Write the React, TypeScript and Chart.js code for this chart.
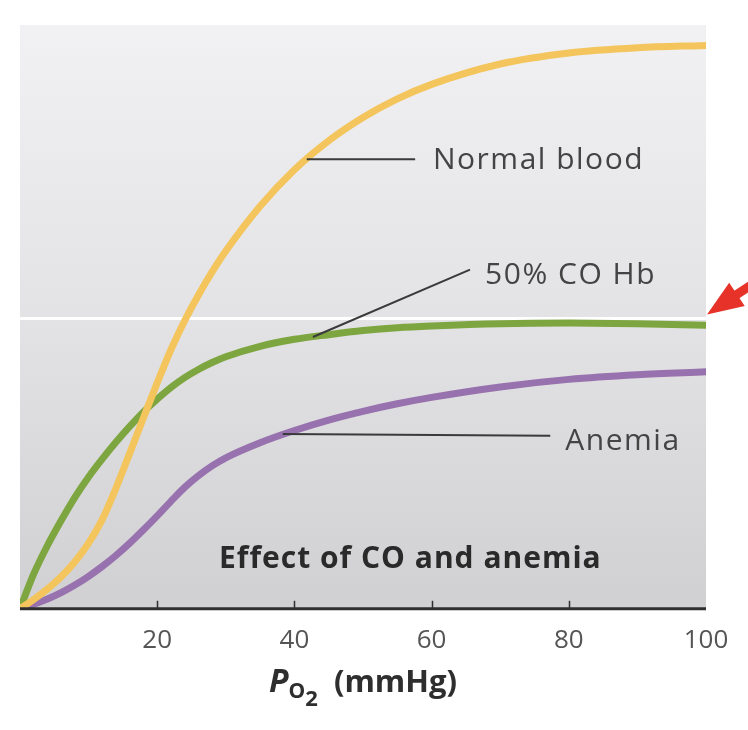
import { useEffect, useRef } from "react";
import { Chart, registerables } from "chart.js";

Chart.register(...registerables);

// Oxygen partial pressure (mmHg) sampled along each dissociation curve
const pO2 = [0, 2, 4, 6, 8, 10, 12, 14, 16, 18, 20, 22, 24, 26, 28, 30, 35, 40, 45, 50, 55, 60, 70, 80, 90, 100];
// Hemoglobin saturation (%) for each condition
const normalBlood = [0, 1.6, 3.4, 5.5, 8.1, 11.3, 15.4, 20.8, 26.8, 32.9, 38.9, 44.6, 49.6, 54, 58, 61.6, 69.3, 75.6, 80.6, 84.6, 87.8, 90.3, 93.8, 95.7, 96.6, 97];
const coHb50 = [0, 6, 10.9, 15.2, 19.2, 22.7, 25.8, 28.7, 31.4, 33.9, 36.1, 38.1, 39.8, 41.2, 42.4, 43.4, 45.2, 46.4, 47.2, 47.9, 48.4, 48.7, 49.1, 49.2, 49.1, 48.8];
const anemia = [0, 0.8, 1.7, 2.8, 4.1, 5.6, 7.3, 9.2, 11.3, 13.6, 16, 18.5, 20.9, 22.9, 24.6, 26, 28.6, 30.7, 32.5, 34, 35.3, 36.4, 38.2, 39.5, 40.3, 40.8];
const xTickValues = [20, 40, 60, 80, 100];
const seriesNames = ["Normal blood", "50% CO Hb", "Anemia"];
const seriesColors = ["#f3c55c", "#7ea640", "#9872ae"];
const chartTitle = "Effect of CO and anemia";
const referenceSaturation = 50;

const FONT = "'Open Sans', 'DejaVu Sans', sans-serif";

// Callout positions, in data units: point on the curve, end of leader, text anchor
const callouts = [
  { text: seriesNames[0], from: [41.8, 77.4], to: [57.6, 77.4], label: [60.2, 77.2] },
  { text: seriesNames[1], from: [42.7, 46.8], to: [65.6, 58.4], label: [67.8, 57.4] },
  { text: seriesNames[2], from: [38.3, 30.1], to: [77.3, 29.8], label: [79.5, 28.8] },
];

const decorations = {
  id: "decorations",
  beforeDatasetsDraw(chart: Chart) {
    const { ctx, chartArea: a, scales } = chart;
    const y = scales.y;
    ctx.save();
    // shaded plot background
    const g = ctx.createLinearGradient(0, a.top, 0, a.bottom);
    g.addColorStop(0, "#f1f1f3");
    g.addColorStop(0.5, "#e3e3e5");
    g.addColorStop(1, "#d0d0d2");
    ctx.fillStyle = g;
    ctx.fillRect(a.left, a.top - 3, a.right - a.left, a.bottom - a.top + 3);
    // 50% saturation reference line
    const py = y.getPixelForValue(referenceSaturation);
    ctx.strokeStyle = "#ffffff";
    ctx.lineWidth = 3;
    ctx.beginPath();
    ctx.moveTo(a.left, py);
    ctx.lineTo(a.right, py);
    ctx.stroke();
    ctx.restore();
  },
  afterDatasetsDraw(chart: Chart) {
    const { ctx, chartArea: a, scales } = chart;
    const x = scales.x;
    const y = scales.y;
    ctx.save();
    // axis line and inward tick marks
    ctx.strokeStyle = "#2f2f2f";
    ctx.lineWidth = 3;
    ctx.beginPath();
    ctx.moveTo(a.left, a.bottom);
    ctx.lineTo(a.right, a.bottom);
    ctx.stroke();
    ctx.lineWidth = 1.5;
    xTickValues.slice(0, -1).forEach((v) => {
      const px = Math.round(x.getPixelForValue(v)) + 0.5;
      ctx.beginPath();
      ctx.moveTo(px, a.bottom);
      ctx.lineTo(px, a.bottom - 8);
      ctx.stroke();
    });

    // leaders and labels
    ctx.strokeStyle = "#3a3a3a";
    ctx.lineWidth = 2;
    ctx.fillStyle = "#444444";
    ctx.font = `30px ${FONT}`;
    (ctx as any).letterSpacing = "1.5px";
    ctx.textBaseline = "middle";
    ctx.textAlign = "left";
    callouts.forEach((c) => {
      ctx.beginPath();
      ctx.moveTo(x.getPixelForValue(c.from[0]), y.getPixelForValue(c.from[1]));
      ctx.lineTo(x.getPixelForValue(c.to[0]), y.getPixelForValue(c.to[1]));
      ctx.stroke();
      ctx.fillText(c.text, x.getPixelForValue(c.label[0]), y.getPixelForValue(c.label[1]));
    });

    // panel title
    ctx.fillStyle = "#2a2a2a";
    ctx.font = `bold 30px ${FONT}`;
    (ctx as any).letterSpacing = "1px";
    ctx.textAlign = "center";
    ctx.fillText(chartTitle, x.getPixelForValue(56.9), y.getPixelForValue(8.5));
    (ctx as any).letterSpacing = "0px";

    // red arrow pointing at the 50% line
    const tipX = a.right + 1;
    const tipY = y.getPixelForValue(referenceSaturation) - 4;
    const ang = Math.atan2(-28, 42);
    const len = 36;
    const half = 14;
    const ux = Math.cos(ang);
    const uy = Math.sin(ang);
    const bx = tipX + ux * len;
    const by = tipY + uy * len;
    ctx.fillStyle = "#e63228";
    ctx.beginPath();
    ctx.moveTo(tipX, tipY);
    ctx.lineTo(bx - uy * half, by + ux * half);
    ctx.lineTo(bx + uy * half, by - ux * half);
    ctx.closePath();
    ctx.fill();
    ctx.strokeStyle = "#e63228";
    ctx.lineWidth = 9;
    ctx.beginPath();
    ctx.moveTo(bx - ux * 2, by - uy * 2);
    ctx.lineTo(bx + ux * 40, by + uy * 40);
    ctx.stroke();
    ctx.restore();
  },
  afterDraw(chart: Chart) {
    const { ctx, scales } = chart;
    const x = scales.x;
    ctx.save();
    ctx.fillStyle = "#2e2e2e";
    ctx.textBaseline = "alphabetic";
    ctx.textAlign = "left";
    const base = 692;
    const parts: [string, string, number][] = [
      ["P", `italic bold 32px ${FONT}`, 0],
      ["O", `bold 21px ${FONT}`, 6],
      ["2", `bold 22px ${FONT}`, 14],
      ["  (mmHg)", `bold 31px ${FONT}`, 0],
    ];
    let total = 0;
    parts.forEach(([t, f]) => {
      ctx.font = f;
      total += ctx.measureText(t).width;
    });
    let cx = x.getPixelForValue(50) - total / 2;
    parts.forEach(([t, f, dy]) => {
      ctx.font = f;
      ctx.fillText(t, cx, base + dy);
      cx += ctx.measureText(t).width;
    });
    ctx.restore();
  },
};

export default function App() {
  const ref = useRef<HTMLCanvasElement | null>(null);

  useEffect(() => {
    if (!ref.current) return;
    const mk = (vals: number[]) => pO2.map((p, i) => ({ x: p, y: vals[i] }));
    const chart = new Chart(ref.current, {
      type: "line",
      data: {
        datasets: [
          { label: seriesNames[0], data: mk(normalBlood), borderColor: seriesColors[0] },
          { label: seriesNames[1], data: mk(coHb50), borderColor: seriesColors[1] },
          { label: seriesNames[2], data: mk(anemia), borderColor: seriesColors[2] },
        ].map((d) => ({
          ...d,
          borderWidth: 7,
          pointRadius: 0,
          fill: false,
          cubicInterpolationMode: "monotone" as const,
          borderCapStyle: "round" as const,
        })),
      },
      options: {
        responsive: false,
        animation: false,
        layout: { padding: { left: 20, right: 42, top: 28, bottom: 58 } },
        plugins: { legend: { display: false }, tooltip: { enabled: false } },
        scales: {
          x: {
            type: "linear",
            min: 0,
            max: 100,
            afterBuildTicks: (s: any) => {
              s.ticks = [0, ...xTickValues].map((v) => ({ value: v }));
            },
            ticks: {
              padding: 16,
              color: "#555555",
              font: { family: FONT, size: 26 },
              maxRotation: 0,
              callback: (v: any) => (v === 0 ? "" : String(v)),
            },
            grid: { display: false, drawTicks: false },
            border: { display: false },
          },
          y: { display: false, min: 0, max: 100 },
        },
      },
      plugins: [decorations],
    });
    return () => chart.destroy();
  }, []);

  return (
    <div style={{ position: "fixed", left: 0, top: 0, width: 748, height: 730, background: "#fff" }}>
      <canvas ref={ref} width={748} height={730} style={{ display: "block" }} />
    </div>
  );
}
